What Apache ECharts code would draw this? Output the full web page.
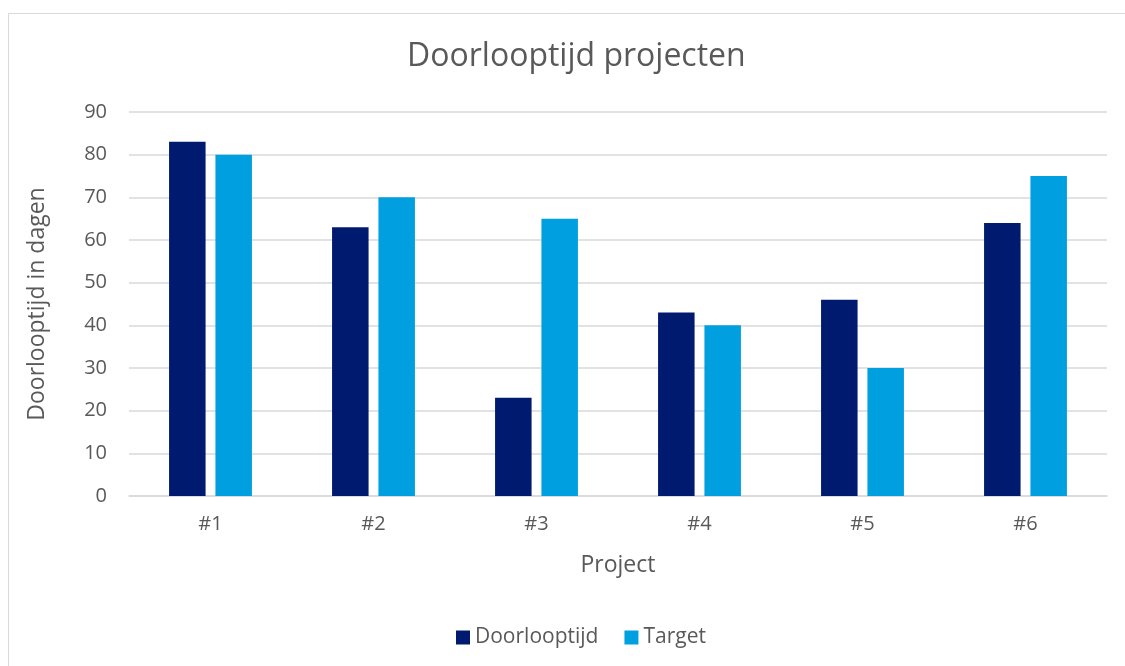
<!DOCTYPE html>
<html>
<head>
<meta charset="utf-8">
<script src="https://cdn.jsdelivr.net/npm/echarts@6/dist/echarts.min.js"></script>
<style>
  html, body { margin: 0; padding: 0; background: #ffffff; }
  #chart { width: 1125px; height: 666px; }
</style>
</head>
<body>
<div id="chart"></div>
<script>
// Projects and lead times (days)
const projects = ['#1', '#2', '#3', '#4', '#5', '#6'];
const doorlooptijd = [83, 63, 23, 43, 46, 64];
const target = [80, 70, 65, 40, 30, 75];
const yTicks = [0, 10, 20, 30, 40, 50, 60, 70, 80, 90];

const FONT = '"Open Sans", "Liberation Sans", sans-serif';
const TEXT = '#595959';

const chart = echarts.init(document.getElementById('chart'), null, { renderer: 'canvas' });

chart.setOption({
  animation: false,
  backgroundColor: '#ffffff',
  graphic: [{
    type: 'rect',
    shape: { x: 8.5, y: 13.5, width: 1130, height: 700 },
    style: { fill: 'none', stroke: '#d9d9d9', lineWidth: 1 },
    silent: true
  }],
  title: {
    text: 'Doorlooptijd projecten',
    left: 402,
    top: 36,
    textStyle: { fontFamily: FONT, fontSize: 32, fontWeight: 'normal', color: TEXT }
  },
  legend: {
    data: ['Doorlooptijd', 'Target'],
    bottom: 13,
    left: 451,
    icon: 'rect',
    itemWidth: 14,
    itemHeight: 14,
    itemGap: 26,
    itemStyle: { borderWidth: 0 },
    textStyle: { fontFamily: FONT, fontSize: 21, color: TEXT }
  },
  grid: { left: 129, right: 18, top: 112, bottom: 170, containLabel: false },
  xAxis: {
    type: 'category',
    data: projects,
    name: 'Project',
    nameLocation: 'middle',
    nameGap: 58,
    nameTextStyle: { fontFamily: FONT, fontSize: 23, color: TEXT },
    axisLine: { show: true, lineStyle: { color: '#d9d9d9', width: 1.5 } },
    axisTick: { show: false },
    axisLabel: { fontFamily: FONT, fontSize: 20, color: TEXT, margin: 18 }
  },
  yAxis: {
    type: 'value',
    min: yTicks[0],
    max: yTicks[yTicks.length - 1],
    interval: 10,
    name: 'Doorlooptijd in dagen',
    nameLocation: 'middle',
    nameGap: 80,
    nameTextStyle: { fontFamily: FONT, fontSize: 23, color: TEXT },
    axisLine: { show: false },
    axisTick: { show: false },
    axisLabel: { fontFamily: FONT, fontSize: 20, color: TEXT, margin: 22 },
    splitLine: { lineStyle: { color: '#d9d9d9', width: 1.5 } }
  },
  series: [
    {
      name: 'Doorlooptijd',
      type: 'bar',
      data: doorlooptijd,
      barWidth: '22.4%',
      barGap: '27%',
      itemStyle: { color: '#001A70' }
    },
    {
      name: 'Target',
      type: 'bar',
      data: target,
      barWidth: '22.4%',
      itemStyle: { color: '#00A0E0' }
    }
  ]
});
</script>
</body>
</html>
